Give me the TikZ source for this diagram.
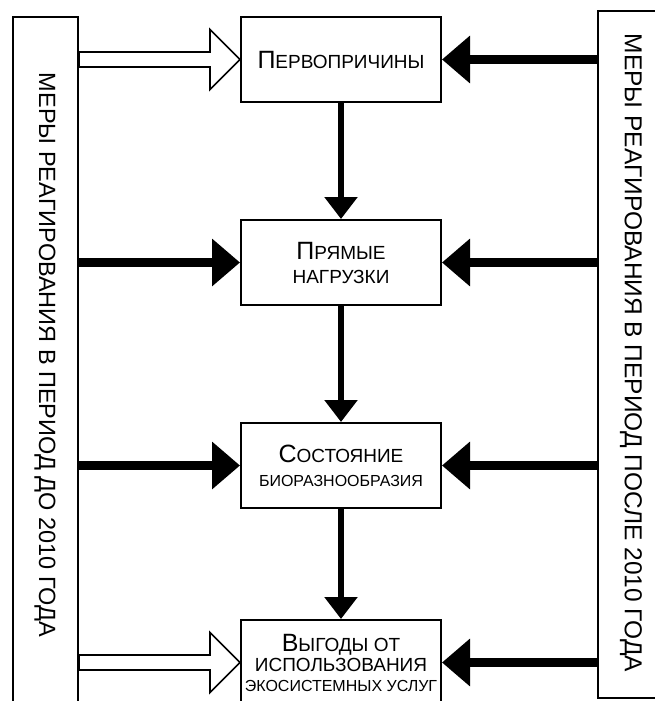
\documentclass[tikz,border=0pt]{standalone}
\usepackage{fontspec}
\setmainfont{Liberation Sans}
\usetikzlibrary{arrows.meta,calc}

\newcommand{\capfirst}[2]{{\fontsize{25}{28}\selectfont #1}#2}

\begin{document}
\begin{tikzpicture}[x=1pt,y=-1pt,
    stage/.style={draw,line width=2pt,minimum width=200pt,minimum height=85pt,
      align=center,inner sep=0pt,font=\fontsize{19}{24}\selectfont},
    frame/.style={draw,line width=2pt,inner sep=0pt},
    sidetext/.style={rotate=-90,inner sep=0pt,font=\fontsize{23.5}{26}\selectfont},
    push/.style={line width=9pt,-{Triangle[length=28pt,width=46pt]}},
    flow/.style={line width=6pt,-{Triangle[length=22pt,width=32pt]}},
    hollow/.style={line width=1.7pt,line join=miter,fill=white}]
      \useasboundingbox (0,0) rectangle (655,701);
      \clip (0,0) rectangle (655,701);

      % measures on both sides
      \path
      (45.5,367) node[frame,minimum width=65pt,minimum height=700pt](before) {}
      (636.5,354.5) node[frame,minimum width=77pt,minimum height=687pt](after) {}
      (45,355) node[sidetext](beforetext) {МЕРЫ РЕАГИРОВАНИЯ В ПЕРИОД ДО 2010 ГОДА}
      (631,353) node[sidetext,font=\fontsize{24.5}{27}\selectfont](aftertext) {МЕРЫ РЕАГИРОВАНИЯ В ПЕРИОД ПОСЛЕ 2010 ГОДА}
      ;

      % the chain in the middle
      \path
      (341,59.5) node[stage](causes) {\capfirst{П}{ЕРВОПРИЧИНЫ}}
      (341,262.5) node[stage](pressures) {\capfirst{П}{РЯМЫЕ}\\НАГРУЗКИ}
      (341,465.5) node[stage](state) {\capfirst{С}{ОСТОЯНИЕ}\\{\fontsize{16}{20}\selectfont БИОРАЗНООБРАЗИЯ}}
      (341,662.5) node[stage](benefits) {\capfirst{В}{ЫГОДЫ ОТ}\\[-4pt]ИСПОЛЬЗОВАНИЯ\\[-4pt]{\fontsize{16}{20}\selectfont ЭКОСИСТЕМНЫХ УСЛУГ}}
      ;

      \draw[flow] (causes.south) -- (pressures.north);
      \draw[flow] (pressures.south) -- (state.north);
      \draw[flow] (state.south) -- (benefits.north);

      \draw[hollow] ($(before.east |- causes.west)+(0,-7.5)$) -- ($(causes.west)+(-30,-7.5)$)
        -- ++(0,-22.5) -- (causes.west) -- ++(-30,30) -- ++(0,-22.5)
        -- ($(before.east |- causes.west)+(0,7.5)$) -- cycle;
      \draw[push] (before.east |- pressures.west) -- (pressures.west);
      \draw[push] (before.east |- state.west) -- (state.west);
      \draw[hollow] ($(before.east |- benefits.west)+(0,-7.5)$) -- ($(benefits.west)+(-30,-7.5)$)
        -- ++(0,-22.5) -- (benefits.west) -- ++(-30,30) -- ++(0,-22.5)
        -- ($(before.east |- benefits.west)+(0,7.5)$) -- cycle;

      \draw[push] (after.west |- causes.east) -- (causes.east);
      \draw[push] (after.west |- pressures.east) -- (pressures.east);
      \draw[push] (after.west |- state.east) -- (state.east);
      \draw[push] (after.west |- benefits.east) -- (benefits.east);
    \end{tikzpicture}
\end{document}
